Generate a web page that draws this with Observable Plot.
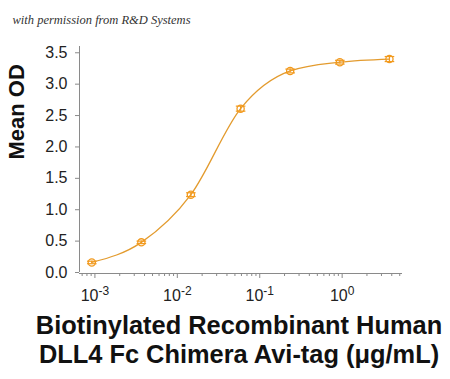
<!DOCTYPE html>
<html><head><meta charset="utf-8">
<script src="https://cdn.jsdelivr.net/npm/d3@7"></script>
<script src="https://cdn.jsdelivr.net/npm/@observablehq/plot@0.6"></script>
<style>body{margin:0;background:#fff}</style>
</head><body><div id="chart"></div>
<script>
const conc = [0.000916, 0.00366, 0.0146, 0.0586, 0.234, 0.9375, 3.75];
const od = [0.16, 0.48, 1.24, 2.61, 3.21, 3.35, 3.40];
const err = [0.02, 0.02, 0.03, 0.04, 0.03, 0.03, 0.04];
const yTicks = [0, 0.5, 1, 1.5, 2, 2.5, 3, 3.5];
const xMajor = [0.001, 0.01, 0.1, 1];
const xMinor = [0.0007,0.0008,0.0009,0.002,0.003,0.004,0.005,0.006,0.007,0.008,0.009,
  0.02,0.03,0.04,0.05,0.06,0.07,0.08,0.09,0.2,0.3,0.4,0.5,0.6,0.7,0.8,0.9,2,3,4,5];
const caption = "with permission from R&D Systems";
const yLabel = "Mean OD";
const xLabel1 = "Biotinylated Recombinant Human";
const xLabel2 = "DLL4 Fc Chimera Avi-tag (\u03bcg/mL)";

const data = conc.map((c, i) => ({c, od: od[i], lo: od[i] - err[i], hi: od[i] + err[i]}));
const lineColor = "#E39B2E", dotColor = "#F29A1E", axisColor = "#8a8a8a";
const capSymbol = {draw(ctx, size) { const w = Math.sqrt(size) * 0.9; ctx.moveTo(-w, 0); ctx.lineTo(w, 0); }};

const plot = Plot.plot({
  width: 450, height: 379,
  marginLeft: 79, marginRight: 48, marginTop: 46, marginBottom: 107,
  style: {fontFamily: "Liberation Sans, Arial, sans-serif", background: "#fff"},
  x: {type: "log", domain: [0.00065, 5.4]},
  y: {domain: [0, 3.6]},
  marks: [
    Plot.axisY({ticks: yTicks, tickSize: 4, tickPadding: 8, tickFormat: d => d.toFixed(1), fontSize: 16, label: null, stroke: axisColor, color: "#222"}),
    Plot.ruleX([0.00065], {y1: 0, y2: 3.6, stroke: axisColor}),
    Plot.ruleY([0], {stroke: axisColor, dy: 1}),
    Plot.axisX({ticks: xMinor, tickSize: 3, tickFormat: () => "", label: null, stroke: axisColor, dy: 1}),
    Plot.axisX({ticks: xMajor, tickSize: 5, tickPadding: 11, tickFormat: d => "10^" + Math.round(Math.log10(d)), fontSize: 16, label: null, stroke: axisColor, color: "#222", dy: 1}),
    Plot.line(data, {x: "c", y: "od", stroke: lineColor, strokeWidth: 1.3, curve: "monotone-x"}),
    Plot.ruleX(data, {x: "c", y1: "lo", y2: "hi", stroke: dotColor, strokeWidth: 1.2}),
    Plot.dot(data, {x: "c", y: "lo", symbol: capSymbol, r: 3, stroke: dotColor, strokeWidth: 1.2}),
    Plot.dot(data, {x: "c", y: "hi", symbol: capSymbol, r: 3, stroke: dotColor, strokeWidth: 1.2}),
    Plot.dot(data, {x: "c", y: "od", r: 3.6, stroke: dotColor, strokeWidth: 1.3, fill: "none"}),
    Plot.text([yLabel], {frameAnchor: "left", dx: -63, rotate: -90, fontSize: 22, fontWeight: "bold", fill: "#111"}),
    Plot.text([xLabel1], {frameAnchor: "bottom", dy: 61, dx: -2, fontSize: 25.4, fontWeight: "bold", fill: "#111"}),
    Plot.text([xLabel2], {frameAnchor: "bottom", dy: 90, dx: -2, fontSize: 25.4, fontWeight: "bold", fill: "#111"}),
    Plot.text([caption], {frameAnchor: "top-left", dx: -67, dy: -31, textAnchor: "start", fontSize: 12.5, fontStyle: "italic", fontFamily: "Liberation Serif, serif", fill: "#333"})
  ]
});
document.getElementById("chart").appendChild(plot);
// superscript exponents on decade labels
d3.select(plot).selectAll("text").each(function() {
  const t = d3.select(this);
  const s = t.text();
  if (!s.startsWith("10^")) return;
  t.text("10");
  t.append("tspan").attr("dy", "-0.45em").attr("font-size", 12).text(s.slice(3));
});
</script></body></html>
